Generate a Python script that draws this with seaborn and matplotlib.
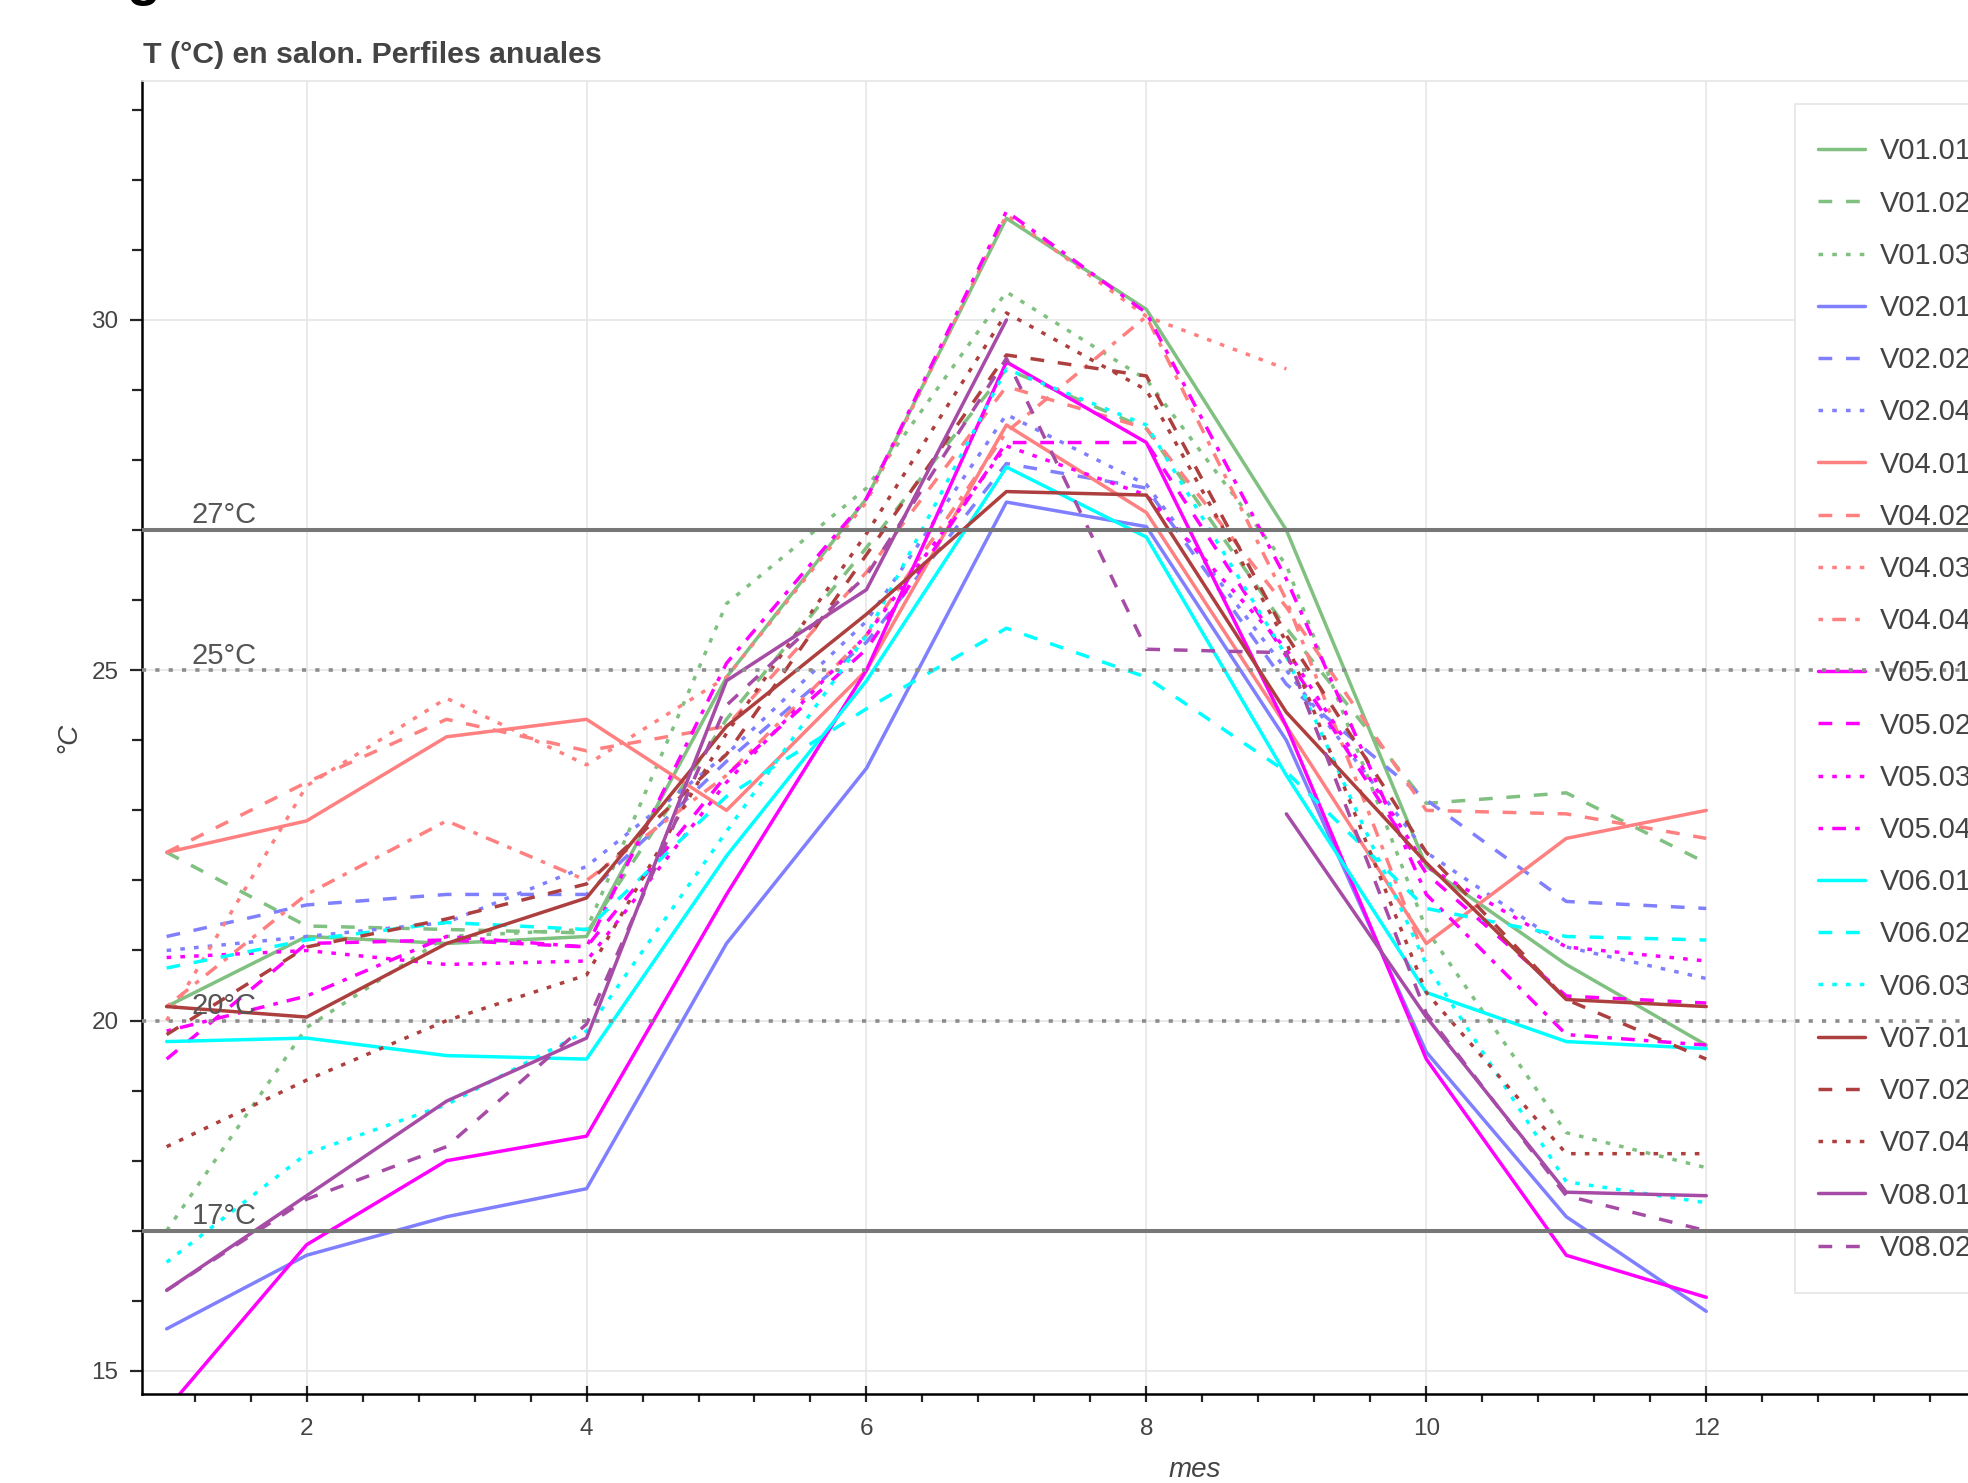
import numpy as np
import pandas as pd
import matplotlib
matplotlib.use("Agg")
import matplotlib.pyplot as plt
import seaborn as sns
from matplotlib.patches import Rectangle
from matplotlib.ticker import MultipleLocator

nan = np.nan

# meses y perfiles de temperatura en salon
meses = list(range(1, 13))

v01_01 = [20.2, 21.2, 21.1, 21.2, 24.9, 27.45, 31.45, 30.15, 27.0, 22.2, 20.8, 19.65]
v01_02 = [22.4, 21.35, 21.3, 21.25, 24.3, 26.75, 29.3, 28.45, 25.6, 23.1, 23.25, 22.25]
v01_03 = [17.0, 19.9, 21.2, 21.3, 25.95, 27.6, 30.4, 29.15, 26.5, 21.3, 18.4, 17.9]
v02_01 = [15.6, 16.65, 17.2, 17.6, 21.1, 23.6, 27.4, 27.05, 24.0, 19.55, 17.2, 15.85]
v02_02 = [21.2, 21.65, 21.8, 21.8, 23.7, 25.4, 27.95, 27.6, 24.8, 23.15, 21.7, 21.6]
v02_04 = [21.0, 21.2, 21.4, 22.2, 23.8, 25.7, 28.65, 27.65, 25.0, 22.4, 21.05, 20.6]
v04_01 = [22.4, 22.85, 24.05, 24.3, 23.0, 25.0, 28.5, 27.25, 24.2, 21.1, 22.6, 23.0]
v04_02 = [22.4, 23.4, 24.3, 23.85, 24.2, 26.4, 29.05, 28.45, 25.9, 23.0, 22.95, 22.6]
v04_03 = [20.0, 23.35, 24.6, 23.65, 24.9, 27.4, 31.5, 30.05, 29.3, nan, nan, nan]
v04_04 = [20.2, 21.8, 22.85, 22.0, 23.5, 25.5, 28.4, 30.05, 26.0, 20.85, nan, nan]
v05_01 = [14.45, 16.8, 18.0, 18.35, 21.8, 25.0, 29.4, 28.25, 24.2, 19.45, 16.65, 16.05]
v05_02 = [19.45, 21.1, 21.15, 21.05, 23.5, 25.3, 28.25, 28.25, 25.2, 22.1, 20.35, 20.25]
v05_03 = [20.9, 21.0, 20.8, 20.85, 23.4, 25.5, 28.2, 27.5, 25.3, 22.2, 21.05, 20.85]
v05_04 = [19.85, 20.35, 21.2, 21.05, 25.1, 27.45, 31.55, 30.1, 26.3, 21.8, 19.8, 19.65]
v06_01 = [19.7, 19.75, 19.5, 19.45, 22.35, 24.85, 27.9, 26.9, 23.5, 20.4, 19.7, 19.6]
v06_02 = [20.75, 21.15, 21.4, 21.3, 23.2, 24.45, 25.6, 24.9, 23.55, 21.6, 21.2, 21.15]
v06_03 = [16.55, 18.1, 18.8, 19.85, 22.7, 25.5, 29.3, 28.5, 25.2, 20.8, 17.7, 17.4]
v07_01 = [20.2, 20.05, 21.1, 21.75, 24.2, 25.8, 27.55, 27.5, 24.4, 22.25, 20.3, 20.2]
v07_02 = [19.8, 21.05, 21.45, 21.95, 23.8, 26.65, 29.5, 29.2, 25.5, 22.4, 20.3, 19.45]
v07_04 = [18.2, 19.15, 20.0, 20.65, 24.1, 26.95, 30.1, 29.0, 25.4, 20.4, 18.1, 18.1]
v08_01 = [16.15, 17.5, 18.85, 19.75, 24.85, 26.15, 30.0, nan, 22.95, 20.05, 17.55, 17.5]
v08_02 = [16.15, 17.45, 18.2, 19.95, 24.5, 26.35, 29.45, 25.3, 25.25, 20.1, 17.5, 17.0]

nombres = ["V01.01", "V01.02", "V01.03", "V02.01", "V02.02", "V02.04",
           "V04.01", "V04.02", "V04.03", "V04.04", "V05.01", "V05.02",
           "V05.03", "V05.04", "V06.01", "V06.02", "V06.03", "V07.01",
           "V07.02", "V07.04", "V08.01", "V08.02"]
valores = [v01_01, v01_02, v01_03, v02_01, v02_02, v02_04, v04_01, v04_02,
           v04_03, v04_04, v05_01, v05_02, v05_03, v05_04, v06_01, v06_02,
           v06_03, v07_01, v07_02, v07_04, v08_01, v08_02]

# umbrales de confort
umbrales = [27, 25, 20, 17]
umbral_labels = ["27°C", "25°C", "20°C", "17°C"]

# colores por vivienda (mezclados con blanco segun su alpha)
colores = {"V01": "#80c080", "V02": "#8080ff", "V04": "#ff8080", "V05": "#ff00ff",
           "V06": "#00ffff", "V07": "#ae3f3f", "V08": "#a64ca6"}
trazos = {"01": "-", "02": (0, (9.9, 9.9)), "03": (0, (3.3, 6.6)),
          "04": (0, (3.3, 6.6)), }
trazo_dotdash = (0, (3.3, 6.6, 9.9, 6.6))


def estilo(nombre):
    viv, num = nombre.split(".")
    if viv in ("V04", "V05") and num == "04":
        return colores[viv], trazo_dotdash
    return colores[viv], trazos[num]


sns.set_style("white")
plt.rcParams["font.family"] = ["Liberation Sans", "DejaVu Sans"]
plt.rcParams["lines.scale_dashes"] = False

W, H = 1968, 1483
fig = plt.figure(figsize=(W / 100, H / 100), dpi=100)
ax = fig.add_axes([142 / W, (H - 1394) / H, 1 - 142 / W, (1394 - 81) / H])

for nombre, vals in zip(nombres, valores):
    color, ls = estilo(nombre)
    df = pd.DataFrame({"mes": meses, "T": vals})
    df["tramo"] = df["T"].isna().cumsum()
    sns.lineplot(data=df.dropna(), x="mes", y="T", units="tramo", estimator=None,
                 color=color, linestyle=ls, linewidth=2.5, label=nombre,
                 legend=False, ax=ax)

for val, lab in zip(umbrales, umbral_labels):
    if val in (27, 17):
        ax.axhline(val, color="#777777", lw=2.9, zorder=5)
    else:
        ax.axhline(val, color="#8c8c8c", lw=2.6, linestyle=(0, (3.0, 6.6)), zorder=5)
    ax.text(1.18, val + 0.01, lab, fontsize=21, color="#555555", va="bottom",
            ha="left", zorder=6)

ax.set_xlim(0.824, 13.87)
ax.set_ylim(14.67, 33.41)
ax.xaxis.set_major_locator(MultipleLocator(2))
ax.xaxis.set_minor_locator(MultipleLocator(0.4))
ax.yaxis.set_major_locator(MultipleLocator(5))
ax.yaxis.set_minor_locator(MultipleLocator(1))
ax.grid(True, which="major", color="#e6e6e6", lw=1.2)
ax.set_axisbelow(True)

for side in ("left", "bottom"):
    ax.spines[side].set_color("black")
    ax.spines[side].set_linewidth(1.8)
ax.spines["top"].set_color("#e5e5e5")
ax.spines["top"].set_linewidth(1.2)
ax.spines["right"].set_visible(False)

ax.tick_params(axis="y", which="major", direction="out", length=9, width=1.6,
               labelsize=17.5, labelcolor="#444444", pad=8, left=True)
ax.tick_params(axis="y", which="minor", direction="out", length=7, width=1.6, left=True)
ax.tick_params(axis="x", which="major", direction="inout", length=12, width=1.6,
               labelsize=17.5, labelcolor="#444444", pad=11, bottom=True)
ax.tick_params(axis="x", which="minor", direction="out", length=6, width=1.6, bottom=True)

ax.set_xlabel("mes", fontsize=20, fontstyle="italic", color="#444444")
ax.set_ylabel("°C", fontsize=20, fontstyle="italic", color="#444444")
ax.xaxis.set_label_coords(0.5767, -0.048)
ax.yaxis.set_label_coords(-0.033, 0.5)

fig.text(143 / W, 1 - 63 / H, "T (°C) en salon. Perfiles anuales", fontsize=21.8,
         fontweight="bold", color="#444444", va="baseline", ha="left")
# resto del encabezado de la pagina, cortado arriba
fig.text(127 / W, 1 + 6 / H, "g", fontsize=40, fontweight="bold", color="black",
         va="baseline", ha="left")

# marco de la leyenda (las lineas de umbral pasan por encima)
marco = Rectangle((1795 / W, 1 - 1293 / H), 1 - 1795 / W + 0.01, (1293 - 104) / H,
                  transform=fig.transFigure, facecolor="white", edgecolor="#e5e5e5",
                  lw=1.2, clip_on=False, zorder=3.9)
ax.add_patch(marco)

# leyenda sin duplicados (V08.01 tiene dos tramos)
handles, labels = ax.get_legend_handles_labels()
unicos = dict(zip(labels, handles))
leg = ax.legend(list(unicos.values()), list(unicos.keys()), loc="upper left",
                bbox_to_anchor=(1795 / W, 1 - 114 / H), bbox_transform=fig.transFigure,
                frameon=False, fontsize=21, labelspacing=0.83, handlelength=1.6,
                handletextpad=0.5, borderpad=0.8, borderaxespad=0,
                labelcolor="#444444")
leg.set_zorder(4)

fig.savefig("out.png", dpi=100)
